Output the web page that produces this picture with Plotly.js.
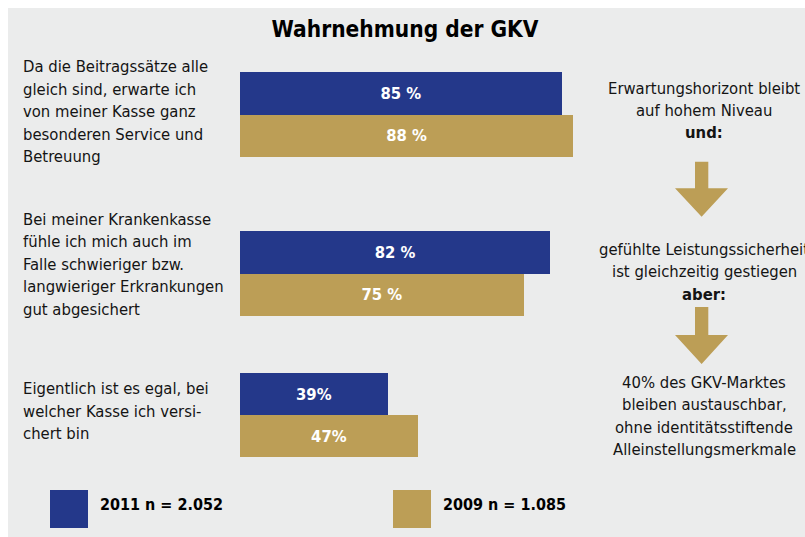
<!DOCTYPE html>
<html><head><meta charset="utf-8">
<script src="https://cdn.plot.ly/plotly-3.0.1.min.js"></script>
<style>html,body{margin:0;padding:0;background:#fff;} #chart{width:805px;height:537px;}</style>
</head><body><div id="chart"></div>
<script>
// ---------- DATA ----------
const categories = [
  "Da die Beitragssätze alle<br>gleich sind, erwarte ich<br>von meiner Kasse ganz<br>besonderen Service und<br>Betreuung",
  "Bei meiner Krankenkasse<br>fühle ich mich auch im<br>Falle schwieriger bzw.<br>langwieriger Erkrankungen<br>gut abgesichert",
  "Eigentlich ist es egal, bei<br>welcher Kasse ich versi-<br>chert bin"
];
const seriesNames = ["2011 n = 2.052", "2009 n = 1.085"];
const values2011 = [85, 82, 39];
const values2009 = [88, 75, 47];
const labels2011 = ["85 %", "82 %", "39%"];
const labels2009 = ["88 %", "75 %", "47%"];
const titleText = "Wahrnehmung der GKV";
const noteA = ["Erwartungshorizont bleibt", "auf hohem Niveau", "<b>und:</b>"];
const noteB = ["gefühlte Leistungssicherheit", "ist gleichzeitig gestiegen", "<b>aber:</b>"];
const noteC = ["40% des GKV-Marktes", "bleiben austauschbar,", "ohne identitätsstiftende", "Alleinstellungsmerkmale"];

// ---------- STYLE / LAYOUT ----------
const W = 805, H = 537;
const fx = x => x / W;
const fy = y => 1 - y / H;
const BLUE = "#24388a", GOLD = "#bc9e56", PANEL = "#ebecec", TXT = "#141414";
const BODY = "DejaVu Sans Condensed, DejaVu Sans, sans-serif";
const groupTop = [72, 231, 373], groupBottom = [157, 316, 457];
const leftLineStart = [66.5, 219, 388.5];
const lineStep = 22.6;

const traces = [];
const yNames = ["y", "y2", "y3"];
categories.forEach((c, i) => {
  [[values2011, labels2011, BLUE, 0], [values2009, labels2009, GOLD, 1]].forEach(([vals, labs, col, s]) => {
    traces.push({
      type: "bar", orientation: "h",
      x: [vals[i]], y: [c], xaxis: "x", yaxis: yNames[i],
      name: seriesNames[s], showlegend: false,
      marker: {color: col, line: {width: 0}},
      text: [labs[i]], textposition: "inside", insidetextanchor: "middle",
      textfont: {color: "#ffffff", size: 16.5, family: BODY, weight: "bold"},
      insidetextfont: {color: "#ffffff", size: 16.5, family: BODY, weight: "bold"},
      hoverinfo: "skip"
    });
  });
});

const layout = {
  width: W, height: H,
  margin: {l: 0, r: 0, t: 0, b: 0},
  paper_bgcolor: "#ffffff", plot_bgcolor: "rgba(0,0,0,0)",
  barmode: "group", bargap: 0, bargroupgap: 0,
  showlegend: false,
  title: {text: "<b>" + titleText + "</b>", x: fx(405), xanchor: "center", xref: "paper",
          y: fy(29), yanchor: "middle", yref: "container",
          font: {family: BODY, size: 22.5, color: "#000"}},
  xaxis: {domain: [fx(240), fx(240 + 378.5)], range: [0, 100], visible: false, fixedrange: true},
  shapes: [], annotations: []
};
yNames.forEach((yn, i) => {
  const key = i === 0 ? "yaxis" : "yaxis" + (i + 1);
  layout[key] = {domain: [fy(groupBottom[i]), fy(groupTop[i])], type: "category",
    range: [0.5, -0.5], visible: false, fixedrange: true, anchor: "x"};
});

// panel
layout.shapes.push({type: "rect", xref: "paper", yref: "paper", x0: fx(8), x1: fx(805), y0: fy(537), y1: fy(8),
  fillcolor: PANEL, line: {width: 0}, layer: "below"});

// left labels (one annotation per line)
categories.forEach((c, i) => {
  c.split("<br>").forEach((ln, j) => {
    layout.annotations.push({xref: "paper", yref: "paper", x: fx(21), y: fy(leftLineStart[i] + j * lineStep),
      xanchor: "left", yanchor: "middle", text: ln, showarrow: false,
      font: {family: BODY, size: 16.5, color: TXT}});
  });
});

// right notes
[[noteA, 88], [noteB, 249.5], [noteC, 382.5]].forEach(([lines, start]) => {
  lines.forEach((ln, j) => {
    layout.annotations.push({xref: "paper", yref: "paper", x: fx(704), y: fy(start + j * 22.4),
      xanchor: "center", yanchor: "middle", text: ln, showarrow: false,
      font: {family: BODY, size: 16.5, color: TXT}});
  });
});

// arrows
function arrowPath(top, shaftBottom, tip) {
  const pts = [[695, top], [708.3, top], [708.3, shaftBottom], [728, shaftBottom], [701.6, tip], [675, shaftBottom], [695, shaftBottom]];
  return "M " + pts.map(p => fx(p[0]) + "," + fy(p[1])).join(" L ") + " Z";
}
[[161.7, 188.3, 216.7], [307, 335, 364]].forEach(a => {
  layout.shapes.push({type: "path", xref: "paper", yref: "paper", path: arrowPath(a[0], a[1], a[2]),
    fillcolor: GOLD, line: {width: 0}});
});

// legend
[[BLUE, 50, 98, 0], [GOLD, 393, 441, 1]].forEach(([col, bx, tx, s]) => {
  layout.shapes.push({type: "rect", xref: "paper", yref: "paper", x0: fx(bx), x1: fx(bx + 38), y0: fy(528), y1: fy(490),
    fillcolor: col, line: {width: 0}});
  layout.annotations.push({xref: "paper", yref: "paper", x: fx(tx), y: fy(504), xanchor: "left", yanchor: "middle",
    text: "<b>" + seriesNames[s] + "</b>", showarrow: false, font: {family: BODY, size: 16, color: "#000"}});
});

Plotly.newPlot("chart", traces, layout, {displayModeBar: false, staticPlot: true});
</script></body></html>
